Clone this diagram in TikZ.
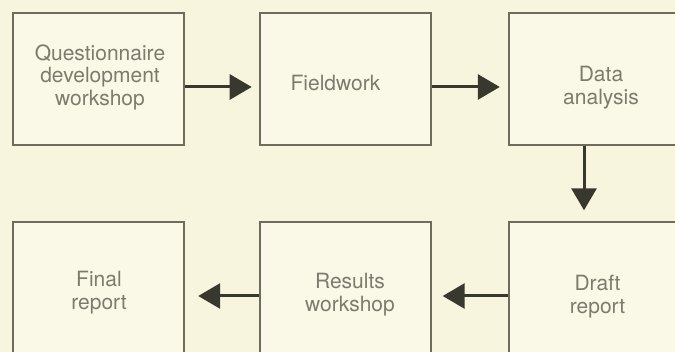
\documentclass[tikz,border=0pt]{standalone}
\usepackage{fontspec}
\setmainfont{TeX Gyre Heros}
\usetikzlibrary{arrows.meta}
\definecolor{bg}{HTML}{F8F5DE}
\definecolor{boxfill}{HTML}{FAF8E6}
\definecolor{edge}{HTML}{6E6D5C}
\definecolor{txt}{HTML}{7C7B6E}
\definecolor{arr}{HTML}{38382E}
\newcommand{\boxtext}[3]{\raisebox{#1}[0pt][0pt]{\hspace*{#2}\begin{tabular}{@{}c@{}}#3\end{tabular}\hspace*{-#2}}}
\tikzset{
  stage/.style={draw=edge, line width=2pt, fill=boxfill, minimum width=171pt, minimum height=132pt,
    inner sep=0pt, align=center, text=txt, font=\fontsize{21}{22.5}\selectfont},
  flow/.style={draw=arr, line width=3pt, -{Triangle[length=22pt,width=25pt]}},
}
\begin{document}
\begin{tikzpicture}[x=1pt,y=1pt]
\fill[bg] (0,0) rectangle (675,-352);
\useasboundingbox (0,0) rectangle (675,-352);
\clip (0,0) rectangle (675,-352);
\node[stage] (q) at (98,-79) {\boxtext{-4.25pt}{2pt}{Questionnaire\\development\\workshop}};
\node[stage] (f) at (345.5,-79) {\boxtext{-12pt}{-10pt}{Fieldwork}};
\node[stage] (d) at (594,-79) {\boxtext{-14.5pt}{7pt}{Data\\analysis}};
\node[stage] (dr) at (594,-288) {\boxtext{-14.75pt}{3.5pt}{Draft\\report}};
\node[stage] (r) at (345.5,-288) {\boxtext{-12.75pt}{4.5pt}{Results\\workshop}};
\node[stage] (fr) at (98,-288) {\boxtext{-10.75pt}{1pt}{Final\\report}};
\draw[flow, shorten >=7.3pt] ([yshift=-8pt]q.east) -- ([yshift=-8pt]f.west);
\draw[flow, shorten >=7.7pt] ([yshift=-8pt]f.east) -- ([yshift=-8pt]d.west);
\draw[flow, shorten >=10.7pt] ([xshift=-10pt]d.south) -- ([xshift=-10pt]dr.north);
\draw[flow, shorten >=10.7pt] ([yshift=-8pt]dr.west) -- ([yshift=-8pt]r.east);
\draw[flow, shorten >=13.7pt] ([yshift=-8pt]r.west) -- ([yshift=-8pt]fr.east);
\end{tikzpicture}
\end{document}
